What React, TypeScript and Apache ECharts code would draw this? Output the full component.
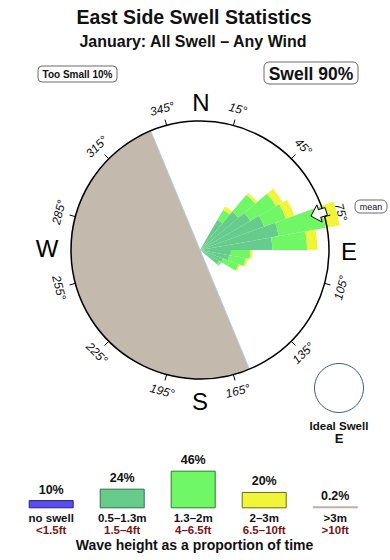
import React, { useEffect, useRef } from "react";
import * as echarts from "echarts";

// ---- rose data (10° direction bins, radial length in % of compass radius) ----
const dirBins = [35, 45, 55, 65, 75, 85, 95, 105, 115, 125];
const band1 = [27, 39, 45, 53, 62, 56, 24, 23, 19, 17]; // 0.5–1.3m
const band2 = [9, 17, 23, 18, 37, 27, 15, 13, 13, 2]; // 1.3–2m
const band3 = [3, 2, 6, 7, 11, 8, 1.5, 1.5, 1, 0]; // 2–3m
const binWidth = 10;
const meanDir = 73;
const landFrom = 157.5;
const landTo = 337.5;
const degLabels = [15, 45, 75, 105, 135, 165, 195, 225, 255, 285, 315, 345];

// ---- size distribution ----
const sizeCats = ["no swell", "0.5–1.3m", "1.3–2m", "2–3m", ">3m"];
const sizeFeet = ["<1.5ft", "1.5–4ft", "4–6.5ft", "6.5–10ft", ">10ft"];
const sizePct = [10, 24, 46, 20, 0.2];
const sizeColors = ["#5b4cf0", "#66cc8c", "#6ff766", "#f0f53c", "#c4aca8"];
const sizeBorders = ["#2a1e8a", "#3a6a4a", "#2e7a2e", "#6a6a10", "#c4aca8"];
const roseColors = ["#66cc8c", "#6ff766", "#f0f53c"];

const FONT = "'Liberation Sans', Arial, Helvetica, sans-serif";
const CX = 200;
const CY = 250;
const R = 129;

export default function App() {
  const ref = useRef<HTMLDivElement>(null);
  useEffect(() => {
    if (!ref.current) return;
    const chart = echarts.init(ref.current, null, { renderer: "svg" });

    // stacked petal segments: [bearing, start, end, bandIndex]
    const bands = [band1, band2, band3];
    const roseData: number[][] = [];
    dirBins.forEach((b, j) => {
      let acc = 0;
      bands.forEach((arr, k) => {
        const v = arr[j];
        if (v > 0) roseData.push([b, acc, acc + v, k]);
        acc += v;
      });
    });

    const rad = (d: number) => (d * Math.PI) / 180;
    const P = (r: number, off: number, b: number) => {
      const B = rad(b);
      return [CX + r * Math.sin(B) + off * Math.cos(B), CY - r * Math.cos(B) + off * Math.sin(B)];
    };
    const arrowPts = [
      P(116, 0, meanDir),
      P(125, 9, meanDir),
      P(125, 4, meanDir),
      P(132, 4, meanDir),
      P(132, -4, meanDir),
      P(125, -4, meanDir),
      P(125, -9, meanDir),
    ];

    const degTexts = degLabels.map((b) => {
      const [x, y] = P(146, 0, b);
      const rot = b > 90 && b < 270 ? 180 - b : -b;
      return {
        type: "text",
        x,
        y,
        rotation: rad(rot),
        style: {
          text: `${b}°`,
          font: `italic 12px ${FONT}`,
          fill: "#111",
          textAlign: "center",
          textVerticalAlign: "middle",
        },
      };
    });

    const txt = (text: string, x: number, y: number, font: string, fill = "#111") => ({
      type: "text",
      x,
      y,
      style: { text, font, fill, textAlign: "center", textVerticalAlign: "middle" },
      z: 20,
    });

    chart.setOption({
      animation: false,
      polar: { center: [CX, CY], radius: R },
      angleAxis: {
        type: "value",
        min: 15,
        max: 375,
        interval: 30,
        startAngle: 75,
        clockwise: true,
        z: 8,
        axisLine: { show: true, lineStyle: { color: "#000", width: 1.5 } },
        axisTick: { show: true, length: 6, lineStyle: { color: "#000", width: 1 } },
        axisLabel: { show: false },
        splitLine: { show: false },
      },
      radiusAxis: {
        type: "value",
        min: 0,
        max: 100,
        axisLine: { show: false },
        axisTick: { show: false },
        axisLabel: { show: false },
        splitLine: { show: false },
      },
      grid: { left: 15.7, right: 19.3, top: 467.4, bottom: 51.7 },
      xAxis: {
        type: "category",
        gridIndex: 0,
        data: sizeCats,
        axisLine: { show: false },
        axisTick: { show: false },
        axisLabel: {
          interval: 0,
          margin: 3,
          formatter: (v: string, i: number) => `{a|${v}}\n{b|${sizeFeet[i]}}`,
          rich: {
            a: { fontSize: 11.5, fontWeight: "bold", color: "#111", lineHeight: 12.5, fontFamily: FONT },
            b: { fontSize: 11.5, fontWeight: "bold", color: "#7a1414", lineHeight: 12.5, fontFamily: FONT },
          },
        },
      },
      yAxis: { type: "value", gridIndex: 0, min: 0, max: 50, show: false },
      series: [
        {
          type: "pie",
          center: [CX, CY],
          radius: [0, R],
          startAngle: 90 - landFrom + 360,
          clockwise: true,
          silent: true,
          z: 0,
          label: { show: false },
          labelLine: { show: false },
          data: [
            { value: landTo - landFrom, itemStyle: { color: "#c4b9ad", borderColor: "#aecbe6", borderWidth: 1 } },
            { value: 360 - (landTo - landFrom), itemStyle: { color: "rgba(0,0,0,0)", borderWidth: 0 } },
          ],
        },
        {
          type: "custom",
          coordinateSystem: "polar",
          silent: true,
          clip: false,
          z: 3,
          data: roseData,
          renderItem: (params: any, api: any) => {
            const b = api.value(0);
            const v0 = api.value(1);
            const v1 = api.value(2);
            const k = api.value(3);
            const cs = params.coordSys;
            const cx = cs.cx;
            const cy = cs.cy;
            const pA = api.coord([v1, b - binWidth / 2]);
            const pB = api.coord([v1, b + binWidth / 2]);
            const pIn = api.coord([v0, b]);
            const r1 = Math.hypot(pA[0] - cx, pA[1] - cy);
            const r0 = Math.hypot(pIn[0] - cx, pIn[1] - cy);
            const a1 = Math.atan2(pA[1] - cy, pA[0] - cx);
            let a2 = Math.atan2(pB[1] - cy, pB[0] - cx);
            if (a2 < a1) a2 += Math.PI * 2;
            return {
              type: "sector",
              shape: { cx, cy, r0, r: r1, startAngle: a1, endAngle: a2, clockwise: true },
              style: { fill: roseColors[k] },
            };
          },
        },
        {
          type: "bar",
          xAxisIndex: 0,
          yAxisIndex: 0,
          barWidth: 45,
          barMinHeight: 2,
          silent: true,
          data: sizePct.map((v, i) => ({
            value: v,
            itemStyle: { color: sizeColors[i], borderColor: sizeBorders[i], borderWidth: i === 4 ? 0 : 1 },
          })),
          label: {
            show: true,
            position: "top",
            distance: 4,
            formatter: "{c}%",
            fontSize: 12.5,
            fontWeight: "bold",
            color: "#111",
            fontFamily: FONT,
          },
        },
      ],
      graphic: [
        txt("East Side Swell Statistics", 194, 17, `bold 19.5px ${FONT}`),
        txt("January: All Swell – Any Wind", 193, 41, `bold 16px ${FONT}`),
        { type: "rect", shape: { x: 38, y: 66, width: 79, height: 16, r: 4 }, style: { fill: "#fff", stroke: "#444", lineWidth: 0.8 }, z: 19 },
        txt("Too Small 10%", 77.5, 74, `bold 10px ${FONT}`),
        { type: "rect", shape: { x: 264, y: 62, width: 94, height: 22, r: 5 }, style: { fill: "#fff", stroke: "#444", lineWidth: 0.8 }, z: 19 },
        txt("Swell 90%", 311, 73.5, `bold 17.5px ${FONT}`),
        txt("N", 201, 102, `24px ${FONT}`, "#000"),
        txt("E", 349, 251, `24px ${FONT}`, "#000"),
        txt("S", 200, 401, `24px ${FONT}`, "#000"),
        txt("W", 47, 248, `24px ${FONT}`, "#000"),
        ...degTexts,
        {
          type: "polygon",
          shape: { points: arrowPts },
          style: { fill: "#fff", stroke: "#000", lineWidth: 1 },
          z: 30,
        },
        { type: "rect", shape: { x: 355, y: 200, width: 32, height: 13, r: 5 }, style: { fill: "#fff", stroke: "#444", lineWidth: 0.8 }, z: 19 },
        txt("mean", 371, 206.5, `9px ${FONT}`),
        { type: "circle", shape: { cx: 339, cy: 388, r: 24.5 }, style: { fill: "#fff", stroke: "#3a5c84", lineWidth: 1 }, z: 19 },
        txt("Ideal Swell", 339, 426, `bold 11.5px ${FONT}`),
        txt("E", 339, 438.5, `bold 13px ${FONT}`),
        txt("Wave height as a proportion of time", 194.5, 545, `bold 14px ${FONT}`),
      ],
    });
    return () => chart.dispose();
  }, []);
  return (
    <div
      ref={ref}
      style={{ position: "fixed", left: 0, top: 0, width: 390, height: 560, background: "#fff" }}
    />
  );
}
